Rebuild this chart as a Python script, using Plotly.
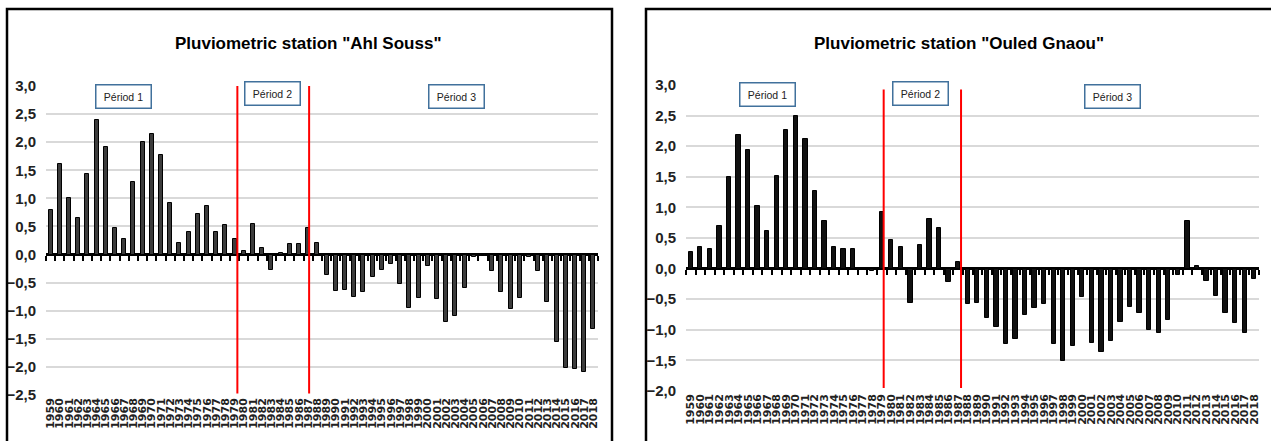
import plotly.graph_objects as go

years = list(range(1959, 2019))

ahl_souss = [
    0.80, 1.62, 1.00, 0.65, 1.44, 2.40, 1.92, 0.48, 0.28, 1.30,
    2.00, 2.14, 1.78, 0.91, 0.20, 0.41, 0.72, 0.86, 0.41, 0.53,
    0.28, 0.07, 0.55, 0.11, -0.27, 0.03, 0.18, 0.18, 0.48, 0.20,
    -0.37, -0.65, -0.63, -0.75, -0.67, -0.40, -0.28, -0.17, -0.53, -0.95,
    -0.77, -0.21, -0.80, -1.20, -1.10, -0.60, -0.04, -0.02, -0.30, -0.66,
    -0.97, -0.77, -0.05, -0.29, -0.84, -1.55, -2.02, -2.04, -2.09, -1.33,
]

ouled_gnaou = [
    0.27, 0.36, 0.32, 0.70, 1.50, 2.18, 1.93, 1.02, 0.62, 1.51,
    2.26, 2.49, 2.12, 1.26, 0.78, 0.36, 0.32, 0.32, -0.02, -0.04,
    0.92, 0.47, 0.36, -0.56, 0.38, 0.81, 0.67, -0.22, 0.10, -0.58,
    -0.56, -0.81, -0.96, -1.23, -1.15, -0.76, -0.64, -0.58, -1.23, -1.51,
    -1.27, -0.46, -1.22, -1.37, -1.18, -0.88, -0.62, -0.72, -1.01, -1.05,
    -0.84, -0.11, 0.78, 0.04, -0.21, -0.45, -0.73, -0.89, -1.05, -0.17,
]

ahl_breaks = [1979.3, 1987.1]
ouled_breaks = [1979.2, 1987.3]

period_labels = ["Périod 1", "Périod 2", "Périod 3"]
ytick_left = [-2.5, -2.0, -1.5, -1.0, -0.5, 0.0, 0.5, 1.0, 1.5, 2.0, 2.5, 3.0]
ytick_right = [-2.0, -1.5, -1.0, -0.5, 0.0, 0.5, 1.0, 1.5, 2.0, 2.5, 3.0]
titles = ['Pluviometric station "Ahl Souss"', 'Pluviometric station "Ouled Gnaou"']

W, H = 1271, 441
def px_x(p): return p / W
def px_y(p): return 1 - p / H

FONT = "Liberation Sans, Arial, sans-serif"

fig = go.Figure()

fig.add_trace(go.Bar(x=years, y=ahl_souss, width=0.45,
                     marker=dict(color="#3c3c3c", line=dict(color="black", width=1)),
                     xaxis="x", yaxis="y", showlegend=False))
fig.add_trace(go.Bar(x=years, y=ouled_gnaou, width=0.45,
                     marker=dict(color="#111111", line=dict(color="black", width=1)),
                     xaxis="x2", yaxis="y2", showlegend=False))

# dummy traces for the zero-line tick axes
fig.add_trace(go.Scatter(x=[years[0]], y=[0], mode="markers", marker=dict(opacity=0),
                         xaxis="x3", yaxis="y", showlegend=False, hoverinfo="skip"))
fig.add_trace(go.Scatter(x=[years[0]], y=[0], mode="markers", marker=dict(opacity=0),
                         xaxis="x4", yaxis="y2", showlegend=False, hoverinfo="skip"))

xr = [years[0] - 0.5, years[-1] + 0.5]
left_dom_x = [px_x(46), px_x(598)]
right_dom_x = [px_x(686), px_x(1259)]
left_dom_y = [px_y(395), px_y(86)]
right_dom_y = [px_y(391), px_y(85)]
left_yr = [-2.5, 3.0]
right_yr = [-2.0, 3.0]

def zero_pos(dom, rng):
    return dom[0] + (0 - rng[0]) / (rng[1] - rng[0]) * (dom[1] - dom[0])

xaxis_common = dict(range=xr, tickmode="array", tickvals=years,
                    ticktext=[str(y) for y in years], tickangle=-90,
                    tickfont=dict(family="DejaVu Sans", size=11, color="#222222", weight="bold"),
                    showgrid=False, showline=False, ticks="", zeroline=False,
                    fixedrange=True, automargin=False)
yaxis_common = dict(tickformat=".1f", tickmode="array",
                    tickfont=dict(family=FONT, size=15, color="#222222", weight="bold"),
                    showgrid=True, gridcolor="#d9d9d9", gridwidth=2,
                    zeroline=True, zerolinecolor="black", zerolinewidth=2.5,
                    showline=False, ticks="", ticklabelstandoff=9, automargin=False)
bound_ticks = [years[0] - 0.5 + i for i in range(len(years) + 1)]
tick_axis = dict(range=xr, tickmode="array", tickvals=bound_ticks, showticklabels=False,
                 ticks="outside", ticklen=5, tickwidth=2, tickcolor="black",
                 showgrid=False, showline=False, zeroline=False, anchor="free",
                 automargin=False)

fig.update_layout(
    width=W, height=H, margin=dict(l=0, r=0, t=0, b=0, autoexpand=False),
    paper_bgcolor="white", plot_bgcolor="white",
    separators=",.", bargap=0,
    xaxis=dict(domain=left_dom_x, anchor="y", **xaxis_common),
    yaxis=dict(domain=left_dom_y, anchor="x", range=left_yr, tickvals=ytick_left, **yaxis_common),
    xaxis2=dict(domain=right_dom_x, anchor="y2", **xaxis_common),
    yaxis2=dict(domain=right_dom_y, anchor="x2", range=right_yr, tickvals=ytick_right, **yaxis_common),
    xaxis3=dict(domain=left_dom_x, overlaying="x", position=zero_pos(left_dom_y, left_yr), **tick_axis),
    xaxis4=dict(domain=right_dom_x, overlaying="x2", position=zero_pos(right_dom_y, right_yr), **tick_axis),
)

# period separators
for b in ahl_breaks:
    fig.add_shape(type="line", xref="x", yref="y domain", x0=b, x1=b, y0=0.005, y1=1,
                  line=dict(color="red", width=2))
for b in ouled_breaks:
    fig.add_shape(type="line", xref="x2", yref="y2 domain", x0=b, x1=b, y0=0.01, y1=0.985,
                  line=dict(color="red", width=2))

# frames
fig.add_shape(type="rect", xref="paper", yref="paper", x0=px_x(7), x1=px_x(612),
              y0=px_y(460), y1=px_y(9), line=dict(color="black", width=2.5))
fig.add_shape(type="rect", xref="paper", yref="paper", x0=px_x(646), x1=px_x(1290),
              y0=px_y(460), y1=px_y(9), line=dict(color="black", width=2.5))

# titles
for t, cx in zip(titles, [308, 959]):
    fig.add_annotation(text=t, xref="paper", yref="paper", x=px_x(cx), y=px_y(44),
                       showarrow=False, xanchor="center", yanchor="middle",
                       font=dict(family=FONT, size=17, color="black", weight="bold"))

# period boxes
box_pos = [(123, 96), (272, 93), (456, 97), (767, 95), (920, 94), (1112, 97)]
for i, (cx, cy) in enumerate(box_pos):
    fig.add_annotation(text=period_labels[i % 3], xref="paper", yref="paper",
                       x=px_x(cx), y=px_y(cy), showarrow=False,
                       xanchor="center", yanchor="middle", width=52, height=20,
                       bgcolor="white", bordercolor="#41719c", borderwidth=1.5, borderpad=1,
                       font=dict(family=FONT, size=10.5, color="#222222"))

fig.write_html("out.html", config={"displayModeBar": False},
               post_script="document.body.style.margin='0px';")
